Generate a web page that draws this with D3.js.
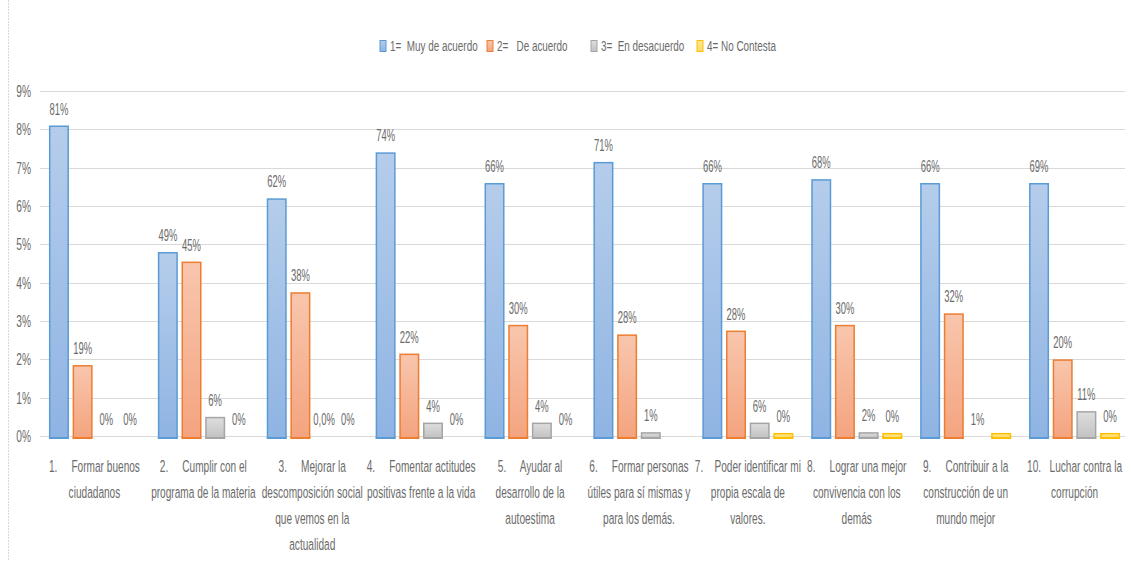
<!DOCTYPE html>
<html>
<head>
<meta charset="utf-8">
<script src="https://cdn.jsdelivr.net/npm/d3@7"></script>
<style>
  body { margin: 0; background: #fff; }
  text { font-family: "Liberation Sans", Arial, sans-serif; fill: #6b6b6b; white-space: pre; }
</style>
</head>
<body>
<div id="chart"></div>
<script>
// Data (bar heights are on the 0-9% axis, labels are the printed ones)
const categories = [
    ["1.     Formar buenos", "ciudadanos"],
    ["2.     Cumplir con el", "programa de la materia"],
    ["3.     Mejorar la", "descomposición social", "que vemos en la", "actualidad"],
    ["4.     Fomentar actitudes", "positivas frente a la vida"],
    ["5.     Ayudar al", "desarrollo de la", "autoestima"],
    ["6.     Formar personas", "útiles para sí mismas y", "para los demás."],
    ["7.    Poder identificar mi", "propia escala de", "valores."],
    ["8.     Lograr una mejor", "convivencia con los", "demás"],
    ["9.     Contribuir a la", "construcción de un", "mundo mejor"],
    ["10.   Luchar contra la", "corrupción"]
];
const seriesNames = ["1=  Muy de acuerdo", "2=   De acuerdo", "3=  En desacuerdo", "4= No Contesta"];
const muyDeAcuerdo = [8.1, 4.8, 6.2, 7.4, 6.6, 7.15, 6.6, 6.7, 6.6, 6.6];
const deAcuerdo = [1.85, 4.55, 3.75, 2.15, 2.9, 2.65, 2.75, 2.9, 3.2, 2.0];
const enDesacuerdo = [0, 0.5, 0, 0.35, 0.35, 0.1, 0.35, 0.1, 0, 0.65];
const noContesta = [0, 0, 0, 0, 0, 0, 0.08, 0.08, 0.08, 0.08];
const labelsMuy = ["81%", "49%", "62%", "74%", "66%", "71%", "66%", "68%", "66%", "69%"];
const labelsDe = ["19%", "45%", "38%", "22%", "30%", "28%", "28%", "30%", "32%", "20%"];
const labelsEn = ["0%", "6%", "0,0%", "4%", "4%", "1%", "6%", "2%", "1%", "11%"];
const labelsNo = ["0%", "0%", "0%", "0%", "0%", "", "0%", "0%", "", "0%"];
const yTicks = [0, 1, 2, 3, 4, 5, 6, 7, 8, 9];

const seriesValues = [muyDeAcuerdo, deAcuerdo, enDesacuerdo, noContesta];
const seriesLabels = [labelsMuy, labelsDe, labelsEn, labelsNo];
const strokes = ["#5b9bd5", "#ed7d31", "#a5a5a5", "#ffc000"];
const gradTop = ["#b5cdeb", "#f8c6ad", "#dedede", "#ffe699"];
const gradBottom = ["#8fb4e3", "#f4a47f", "#c2c2c2", "#ffd966"];

const W = 1131, H = 561;
const svg = d3.select("#chart").append("svg")
    .attr("width", W).attr("height", H);

// squeeze text horizontally, like the condensed original
function addText(g, x, y, str, size, anchor, sq) {
    return g.append("text")
        .attr("transform", `translate(${x},${y}) scale(${sq || 0.6},1)`)
        .attr("text-anchor", anchor || "middle")
        .style("font-size", size + "px")
        .text(str);
}

const defs = svg.append("defs");
seriesNames.forEach((s, i) => {
    const lg = defs.append("linearGradient")
        .attr("id", "grad" + i)
        .attr("x1", 0).attr("y1", 0).attr("x2", 0).attr("y2", 1);
    lg.append("stop").attr("offset", "0%").attr("stop-color", gradTop[i]);
    lg.append("stop").attr("offset", "100%").attr("stop-color", gradBottom[i]);
});

// chart frame edge on the left
svg.append("line")
    .attr("x1", 8.5).attr("x2", 8.5).attr("y1", 0).attr("y2", H)
    .attr("stroke", "#d9d9d9").attr("stroke-dasharray", "2,1");

const y = d3.scaleLinear().domain([0, 9]).range([436, 91]);
const x = d3.scaleBand().domain(d3.range(categories.length)).range([40, 1129]);
const groupW = 91;
const xSub = d3.scaleBand().domain(d3.range(4))
    .range([(x.bandwidth() - groupW) / 2, (x.bandwidth() + groupW) / 2])
    .paddingInner(0.156);

// gridlines
svg.append("g").selectAll("line")
    .data(yTicks).enter().append("line")
    .attr("x1", 40).attr("x2", 1125)
    .attr("y1", d => Math.round(y(d)) + 0.5).attr("y2", d => Math.round(y(d)) + 0.5)
    .attr("stroke", "#d9d9d9").attr("stroke-width", 1);

// y tick labels
const yAxisG = svg.append("g");
yTicks.forEach(t => addText(yAxisG, 31, y(t) + 6, t + "%", 17, "end", 0.6));

// bars
const bars = svg.append("g");
seriesValues.forEach((vals, si) => {
    const pts = vals.map((v, i) => ({ v: v, i: i })).filter(d => d.v > 0);
    bars.selectAll(".s" + si)
        .data(pts).enter()
        .append("rect")
        .attr("x", d => x(d.i) + xSub(si) + 0.75)
        .attr("y", d => y(d.v) + 0.75)
        .attr("width", xSub.bandwidth() - 1.5)
        .attr("height", d => y(0) - y(d.v) + 1)
        .attr("fill", `url(#grad${si})`)
        .attr("stroke", strokes[si])
        .attr("stroke-width", 1.5);
    // little baseline tab under every bar
    bars.selectAll(".b" + si)
        .data(pts).enter()
        .append("rect")
        .attr("x", d => x(d.i) + xSub(si))
        .attr("y", y(0) + 1)
        .attr("width", xSub.bandwidth())
        .attr("height", 2)
        .attr("fill", strokes[si]);
});

// data labels
const labG = svg.append("g");
seriesValues.forEach((vals, si) => {
    vals.forEach((v, i) => {
        const lab = seriesLabels[si][i];
        if (!lab) return;
        addText(labG, x(i) + xSub(si) + xSub.bandwidth() / 2, y(v) - 11, lab, 16, "middle", 0.59);
    });
});

// category labels
const catG = svg.append("g");
categories.forEach((lines, i) => {
    lines.forEach((ln, j) => {
        addText(catG, x(i) + x.bandwidth() / 2, 472 + j * 26, ln, 17, "middle", 0.595);
    });
});

// legend
const legendX = [380, 487, 591, 697];
const leg = svg.append("g");
seriesNames.forEach((s, i) => {
    leg.append("rect")
        .attr("x", legendX[i]).attr("y", 40.5)
        .attr("width", 6).attr("height", 11)
        .attr("fill", `url(#grad${i})`)
        .attr("stroke", strokes[i]);
    addText(leg, legendX[i] + 10, 51, s, 15, "start", 0.66);
});
</script>
</body>
</html>
